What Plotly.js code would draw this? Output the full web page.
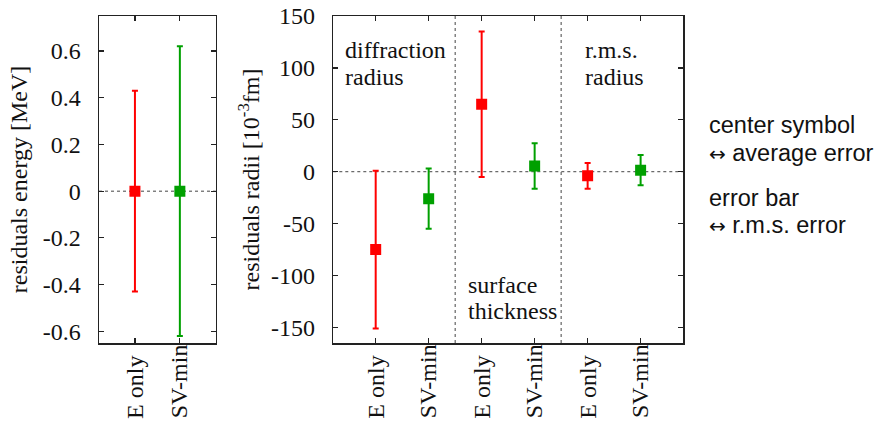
<!DOCTYPE html>
<html>
<head>
<meta charset="utf-8">
<script src="https://cdn.plot.ly/plotly-3.0.1.min.js"></script>
<style>html,body{margin:0;padding:0;background:#fff;}</style>
</head>
<body>
<div id="chart" style="width:882px;height:423px;"></div>
<script>
// ---- data ----
const methods = ['E only', 'SV-min'];
const methodColors = ['#ff0000', '#00a000'];

// energy panel
const energyAvg = [0, 0];        // average error (MeV)
const energyRms = [0.43, 0.62];  // r.m.s. error (MeV)

// radii panel (10^-3 fm), groups x methods
const radiiGroups = ['diffraction radius', 'surface thickness', 'r.m.s. radius'];
const radiiAvgEonly = [-75, 65, -4];
const radiiRmsEonly = [76, 70, 12.5];
const radiiAvgSV = [-26, 5.5, 1.5];
const radiiRmsSV = [29, 22, 14.5];

const energyTicks = [-0.6, -0.4, -0.2, 0, 0.2, 0.4, 0.6];
const energyTickText = ['-0.6', '-0.4', '-0.2', '0', '0.2', '0.4', '0.6'];
const radiiTicks = [-150, -100, -50, 0, 50, 100, 150];
const radiiTickText = ['-150', '-100', '-50', '0', '50', '100', '150'];

// ---- build ----
const SERIF = 'Liberation Serif';
const SANS = 'Liberation Sans';
const FS = 24;

const traces = [];
function mk(xs, ys, errs, color, xa, ya) {
  return {
    type: 'scatter', mode: 'markers', x: xs, y: ys, xaxis: xa, yaxis: ya,
    marker: {symbol: 'square', size: 11, color: color},
    error_y: {type: 'data', array: errs, visible: true, color: color, thickness: 2, width: 3},
    showlegend: false, hoverinfo: 'skip'
  };
}
// energy panel: positions are category indices
methods.forEach((m, i) => {
  traces.push(mk([i], [energyAvg[i]], [energyRms[i]], methodColors[i], 'x', 'y'));
});
// radii panel
const radiiCats = [];
radiiGroups.forEach(g => methods.forEach(m => radiiCats.push(m)));
const xE = radiiGroups.map((g, k) => 2 * k);
const xS = radiiGroups.map((g, k) => 2 * k + 1);
traces.push(mk(xE, radiiAvgEonly, radiiRmsEonly, methodColors[0], 'x2', 'y2'));
traces.push(mk(xS, radiiAvgSV, radiiRmsSV, methodColors[1], 'x2', 'y2'));

const axCommon = {
  showline: true, linecolor: '#222', linewidth: 1.5, mirror: 'allticks',
  ticks: 'inside', ticklen: 5, tickcolor: '#222', tickwidth: 1.2,
  showgrid: false, zeroline: false,
  tickfont: {family: SERIF, size: FS, color: '#111'}
};

const shapes = [
  {type: 'line', xref: 'x domain', yref: 'y', x0: 0, x1: 1, y0: 0, y1: 0,
   line: {color: '#444', width: 1, dash: 'dot'}, layer: 'below'},
  {type: 'line', xref: 'x2 domain', yref: 'y2', x0: 0, x1: 1, y0: 0, y1: 0,
   line: {color: '#444', width: 1, dash: 'dot'}, layer: 'below'}
];
// group separators
for (let k = 1; k < radiiGroups.length; k++) {
  shapes.push({type: 'line', xref: 'x2', yref: 'y2 domain', x0: 2 * k - 0.5, x1: 2 * k - 0.5, y0: 0, y1: 1,
    line: {color: '#444', width: 1, dash: 'dot'}, layer: 'below'});
}

const annotations = [];
// rotated category labels (left-aligned, reading upward)
function catLabel(text, x, xref) {
  annotations.push({text: text, x: x, xref: xref, y: -0.237, yref: 'paper',
    xanchor: 'center', yanchor: 'bottom', textangle: -90, showarrow: false,
    font: {family: SERIF, size: FS, color: '#111'}});
}
methods.forEach((m, i) => catLabel(m, i, 'x'));
radiiCats.forEach((m, i) => catLabel(m, i, 'x2'));

// group names
const groupLines = [['diffraction', 'radius'], ['surface', 'thickness'], ['r.m.s.', 'radius']];
const groupPos = [[0.4173, 0.896, 0.8135], [0.6284, 0.1774, 0.0978], [0.8283, 0.896, 0.8135]];
groupLines.forEach((lines, k) => {
  lines.forEach((t, j) => {
    annotations.push({text: t, x: groupPos[k][0], xref: 'paper', y: groupPos[k][1 + j], yref: 'paper',
      xanchor: 'left', yanchor: 'middle', showarrow: false,
      font: {family: SERIF, size: FS, color: '#111'}});
  });
});

// side explanation
const ARROW = '<span style="font-family:DejaVu Sans;font-size:20px">\u2194</span>';
const sideText = ['center symbol', ARROW + ' average error', 'error bar', ARROW + ' r.m.s. error'];
const sideY = [0.667, 0.582, 0.443, 0.361];
sideText.forEach((t, j) => {
  annotations.push({text: t, x: 1.041, xref: 'paper', y: sideY[j], yref: 'paper',
    xanchor: 'left', yanchor: 'middle', showarrow: false,
    font: {family: SANS, size: 23.5, color: '#111'}});
});

const layout = {
  width: 882, height: 423,
  margin: {l: 99, r: 199, t: 16, b: 80},
  paper_bgcolor: '#fff', plot_bgcolor: '#fff',
  font: {family: SERIF, size: FS, color: '#111'},
  showlegend: false,
  xaxis: Object.assign({}, axCommon, {domain: [0, 0.2], range: [-0.8, 1.8],
    tickvals: methods.map((m, i) => i), showticklabels: false}),
  yaxis: Object.assign({}, axCommon, {range: [-0.65, 0.75], tickvals: energyTicks, ticktext: energyTickText,
    ticklabelstandoff: 12,
    title: {text: 'residuals energy [MeV]', font: {family: SERIF, size: FS, color: '#111'}, standoff: 8}}),
  xaxis2: Object.assign({}, axCommon, {domain: [0.4012, 1], range: [-0.8, 5.8], anchor: 'y2',
    tickvals: radiiCats.map((m, i) => i), showticklabels: false}),
  yaxis2: Object.assign({}, axCommon, {anchor: 'x2', range: [-165, 150], tickvals: radiiTicks, ticktext: radiiTickText,
    ticklabelstandoff: 12,
    title: {text: 'residuals radii [10<sup>-3</sup>fm]', font: {family: SERIF, size: FS, color: '#111'}, standoff: 4}}),
  shapes: shapes,
  annotations: annotations
};

Plotly.newPlot('chart', traces, layout, {displayModeBar: false, staticPlot: true});
</script>
</body>
</html>
